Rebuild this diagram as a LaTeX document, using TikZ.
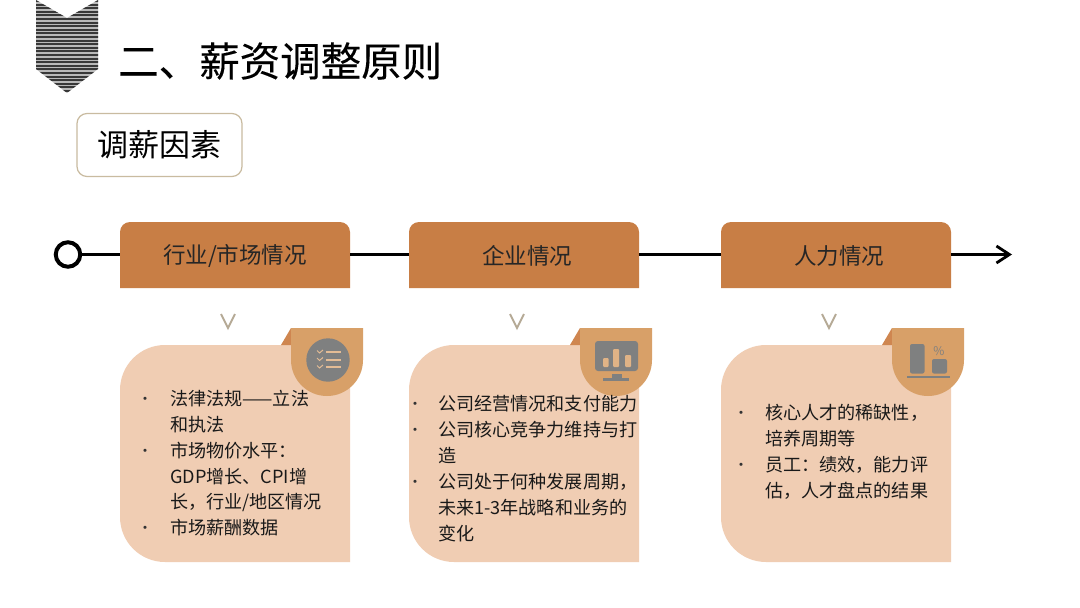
\documentclass[tikz,border=0pt]{standalone}
\usepackage{fontspec}
\setmainfont{Noto Sans CJK SC}
\newfontfamily\heavycjk[FakeBold=0.25]{Noto Sans CJK SC}
\usetikzlibrary{arrows.meta}
\definecolor{hdr}{HTML}{C87E45}
\definecolor{cardc}{HTML}{F0CDB3}
\definecolor{badge}{HTML}{D8A068}
\definecolor{foldc}{HTML}{CF8650}
\definecolor{icong}{HTML}{7F8080}
\definecolor{tagb}{HTML}{C9BBA0}
\definecolor{chev}{HTML}{B5A995}
\tikzset{
  x=1pt,y=-1pt,
  titletext/.style={inner sep=0,anchor=west,font=\heavycjk\fontsize{40.5}{40.5}\selectfont,text=black},
  tagbox/.style={draw=tagb,line width=1.2pt,rounded corners=10pt,fill=white,minimum width=165pt,minimum height=63pt,inner sep=0,font=\fontsize{31}{31}\selectfont},
  headbox/.style={minimum width=230pt,minimum height=66pt,inner sep=0,font=\fontsize{22.5}{22.5}\selectfont,text=black!85},
  bodyline/.style={inner sep=0,anchor=west,font=\fontsize{18.1}{18.1}\selectfont,text=black!90},
  bulletdot/.style={inner sep=0,anchor=center,font=\fontsize{15}{15}\selectfont,text=black!80},
  axisline/.style={line width=3.4pt,draw=black},
}
\newcommand{\cardpart}[1]{%
  \begin{scope}[xshift=#1pt]
    \fill[hdr] (0,288) -- (0,232) arc[start angle=180,end angle=270,radius=10] -- (220,222) arc[start angle=270,end angle=360,radius=10] -- (230,288) -- cycle;
    \draw[chev,line width=1.9pt] (101,314) -- (108,328) -- (115,314);
    \fill[cardc] (45,345) -- (230,345) -- (230,562) -- (45,562) arc[start angle=90,end angle=180,radius=45] -- (0,390) arc[start angle=180,end angle=270,radius=45] -- cycle;
    \fill[foldc] (161,345) -- (171,328) -- (171,345) -- cycle;
    \fill[badge] (171,328) -- (243,328) -- (243,360) arc[start angle=0,end angle=180,radius=36] -- cycle;
  \end{scope}}
\begin{document}
\begin{tikzpicture}
\useasboundingbox (0,0) rectangle (1080,608);
\fill[white] (0,0) rectangle (1080,608);
% stripe logo
\begin{scope}
  \clip (36,0) -- (67,18) -- (98,0) -- (98,69) -- (67,93) -- (36,69) -- cycle;
  \fill[white!45!gray] (30,0) rectangle (104,95);
  \foreach \i in {0,...,26} { \draw[black!78,line width=1.9pt] (30,1+3.6*\i) -- (104,1+3.6*\i); }
\end{scope}
\node[titletext] (title) at (118,61) {二、薪资调整原则};
\node[tagbox] (tag) at (159.5,145) {调薪因素};
% cards
\cardpart{120}
\cardpart{409}
\cardpart{721}
\node[headbox] (h1) at (235,255.5) {行业/市场情况};
\node[headbox] (h2) at (527,255.5) {企业情况};
\node[headbox] (h3) at (839,255.5) {人力情况};
\node[draw=black,line width=4pt,circle,fill=white,minimum size=24.5pt,inner sep=0] (start) at (68,254.5) {};
\coordinate (end) at (1012,254.5);
\draw[axisline] (start.east) -- (120,254.5);
\draw[axisline] (350,254.5) -- (409,254.5);
\draw[axisline] (639,254.5) -- (721,254.5);
\draw[axisline,-{Straight Barb[length=13pt,width=17pt,line width=2.8pt]}] (951,254.5) -- (end);
% icon 1
\fill[icong] (328,360) circle[radius=21.7];
\foreach \y in {352,359.5,367} {
  \draw[badge!70!white,line width=2pt] (326,\y) -- (341,\y);
  \draw[badge!70!white,line width=1pt] (317,\y-1.5) -- (319.5,\y+1) -- (323,\y-2);
}
% icon 2
\fill[icong,rounded corners=3pt] (595,341) rectangle (638,371);
\fill[badge!80!white,rounded corners=1pt] (603,358) rectangle (608.5,367);
\fill[badge!80!white,rounded corners=1pt] (613,349) rectangle (619,367);
\fill[badge!80!white,rounded corners=1pt] (625,355) rectangle (631,367);
\fill[icong] (612,374) rectangle (622,378);
\fill[icong] (603,378) rectangle (629,380.5);
% icon 3
\fill[icong,rounded corners=2pt] (910,344) rectangle (924.5,373.5);
\fill[icong,rounded corners=2pt] (932,359) rectangle (947,373.5);
\draw[icong,line width=2.6pt] (907,377) -- (949.5,377);
\node[inner sep=0,text=icong,font=\fontsize{12}{12}\selectfont] (pct) at (939,351) {\%};
% body column 1
\node[bulletdot] (a0) at (145,400.5) {·};
\node[bodyline] (a1) at (170,398.5) {法律法规——立法};
\node[bodyline] (a2) at (170,424.5) {和执法};
\node[bulletdot] (a3) at (145,452.5) {·};
\node[bodyline] (a4) at (170,450.5) {市场物价水平：};
\node[bodyline] (a5) at (170,476.5) {GDP增长、CPI增};
\node[bodyline] (a6) at (170,502.5) {长，行业/地区情况};
\node[bulletdot] (a7) at (145,529.5) {·};
\node[bodyline] (a8) at (170,527.5) {市场薪酬数据};
% body column 2
\node[bulletdot] (b0) at (415,405.5) {·};
\node[bodyline] (b1) at (438,403.5) {公司经营情况和支付能力};
\node[bulletdot] (b2) at (415,431.5) {·};
\node[bodyline] (b3) at (438,429.5) {公司核心竞争力维持与打};
\node[bodyline] (b4) at (438,455.5) {造};
\node[bulletdot] (b5) at (415,483.5) {·};
\node[bodyline] (b6) at (438,481.5) {公司处于何种发展周期，};
\node[bodyline] (b7) at (438,507.5) {未来1-3年战略和业务的};
\node[bodyline] (b8) at (438,533.5) {变化};
% body column 3
\node[bulletdot] (c0) at (741,414.5) {·};
\node[bodyline] (c1) at (765,412.5) {核心人才的稀缺性，};
\node[bodyline] (c2) at (765,438.5) {培养周期等};
\node[bulletdot] (c3) at (741,466.5) {·};
\node[bodyline] (c4) at (765,464.5) {员工：绩效，能力评};
\node[bodyline] (c5) at (765,490.5) {估，人才盘点的结果};
\end{tikzpicture}
\end{document}
